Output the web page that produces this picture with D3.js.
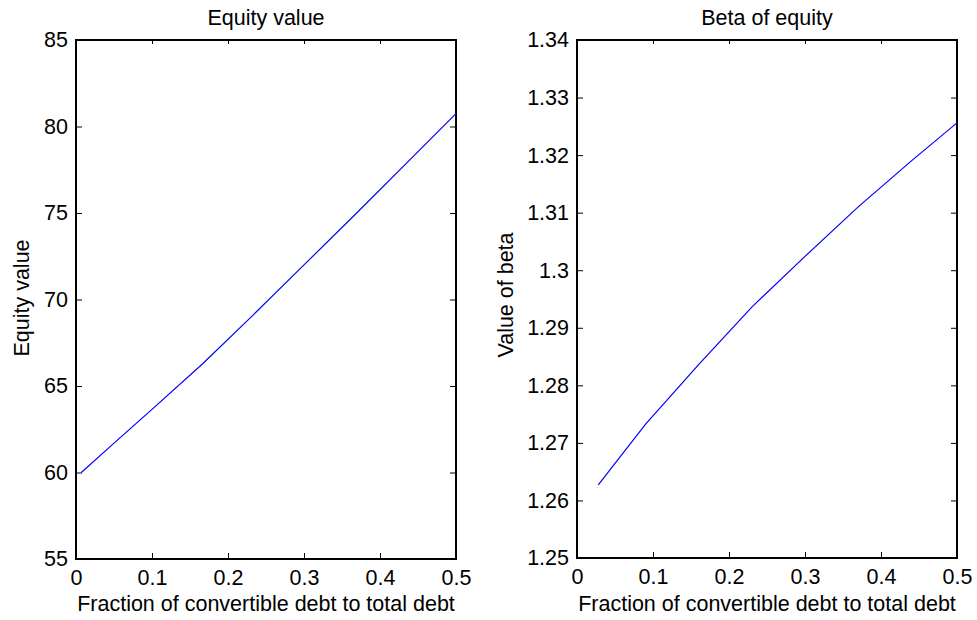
<!DOCTYPE html>
<html>
<head>
<meta charset="utf-8">
<script src="https://cdn.jsdelivr.net/npm/d3@7"></script>
<style>
  body { margin: 0; background: #fff; }
  svg { display: block; font-family: "Liberation Sans", Arial, sans-serif; }
  .tick text { font-size: 21.5px; fill: #000; }
  .lbl { font-size: 21.5px; fill: #000; }
</style>
</head>
<body>
<svg id="chart" width="977" height="620"></svg>
<script>
// equity value panel
var fracEquity = [0.007, 0.05, 0.1, 0.167, 0.233, 0.3, 0.367, 0.433, 0.5];
var equityValue = [60.0, 61.7, 63.65, 66.3, 69.1, 72.0, 74.9, 77.8, 80.74];
// beta panel
var fracBeta = [0.028, 0.09, 0.16, 0.23, 0.3, 0.37, 0.44, 0.5];
var betaValue = [1.2627, 1.2732, 1.2836, 1.2936, 1.3024, 1.3110, 1.3190, 1.3256];

var xTicks = [0, 0.1, 0.2, 0.3, 0.4, 0.5];
var equityTicks = [55, 60, 65, 70, 75, 80, 85];
var betaTicks = [1.25, 1.26, 1.27, 1.28, 1.29, 1.3, 1.31, 1.32, 1.33, 1.34];

var svg = d3.select("#chart");

function drawPanel(opt) {
  var x = d3.scaleLinear().domain([0, 0.5]).range([opt.left, opt.right]);
  var y = d3.scaleLinear().domain(opt.yDomain).range([opt.bottom, opt.top]);
  var fmt = function(d) { return String(+d.toFixed(2)); };

  var g = svg.append("g");

  // bottom axis with labels
  g.append("g")
    .attr("transform", "translate(0," + opt.bottom + ")")
    .call(d3.axisBottom(x).tickValues(xTicks).tickFormat(fmt)
      .tickSizeInner(-6).tickSizeOuter(0).tickPadding(11));
  // top axis, ticks only
  g.append("g")
    .attr("transform", "translate(0," + opt.top + ")")
    .call(d3.axisTop(x).tickValues(xTicks).tickFormat("")
      .tickSizeInner(-4).tickSizeOuter(0));
  // left axis with labels
  g.append("g")
    .attr("transform", "translate(" + opt.left + ",0)")
    .call(d3.axisLeft(y).tickValues(opt.yTicks).tickFormat(fmt)
      .tickSizeInner(-6).tickSizeOuter(0).tickPadding(8));
  // right axis, ticks only
  g.append("g")
    .attr("transform", "translate(" + opt.right + ",0)")
    .call(d3.axisRight(y).tickValues(opt.yTicks).tickFormat("")
      .tickSizeInner(-6).tickSizeOuter(0));

  g.selectAll(".domain").remove();
  g.selectAll(".tick line").attr("stroke", "#000").attr("stroke-width", 1);

  // frame
  g.append("rect")
    .attr("x", opt.left).attr("y", opt.top)
    .attr("width", opt.right - opt.left).attr("height", opt.bottom - opt.top)
    .attr("fill", "none").attr("stroke", "#000").attr("stroke-width", 2);

  var line = d3.line()
    .x(function(d) { return x(d[0]); })
    .y(function(d) { return y(d[1]); });

  g.append("path")
    .datum(d3.zip(opt.xs, opt.ys))
    .attr("d", line)
    .attr("fill", "none")
    .attr("stroke", "#0000ff")
    .attr("stroke-width", 1.2);

  // title
  g.append("text").attr("class", "lbl")
    .attr("x", (opt.left + opt.right) / 2).attr("y", 25)
    .attr("text-anchor", "middle")
    .text(opt.title);
  // x label
  g.append("text").attr("class", "lbl")
    .attr("x", (opt.left + opt.right) / 2).attr("y", 611)
    .attr("text-anchor", "middle")
    .text("Fraction of convertible debt to total debt");
  // y label
  g.append("text").attr("class", "lbl")
    .attr("transform", "translate(" + opt.yLabelX + "," + opt.yLabelY + ") rotate(-90)")
    .attr("text-anchor", "middle")
    .text(opt.yLabel);
}

drawPanel({
  left: 76, right: 456, top: 40, bottom: 559,
  yDomain: [55, 85], yTicks: equityTicks,
  xs: fracEquity, ys: equityValue,
  title: "Equity value", yLabel: "Equity value",
  yLabelX: 29, yLabelY: 298
});

drawPanel({
  left: 577, right: 957, top: 40, bottom: 558,
  yDomain: [1.25, 1.34], yTicks: betaTicks,
  xs: fracBeta, ys: betaValue,
  title: "Beta of equity", yLabel: "Value of beta",
  yLabelX: 513, yLabelY: 295
});
</script>
</body>
</html>
